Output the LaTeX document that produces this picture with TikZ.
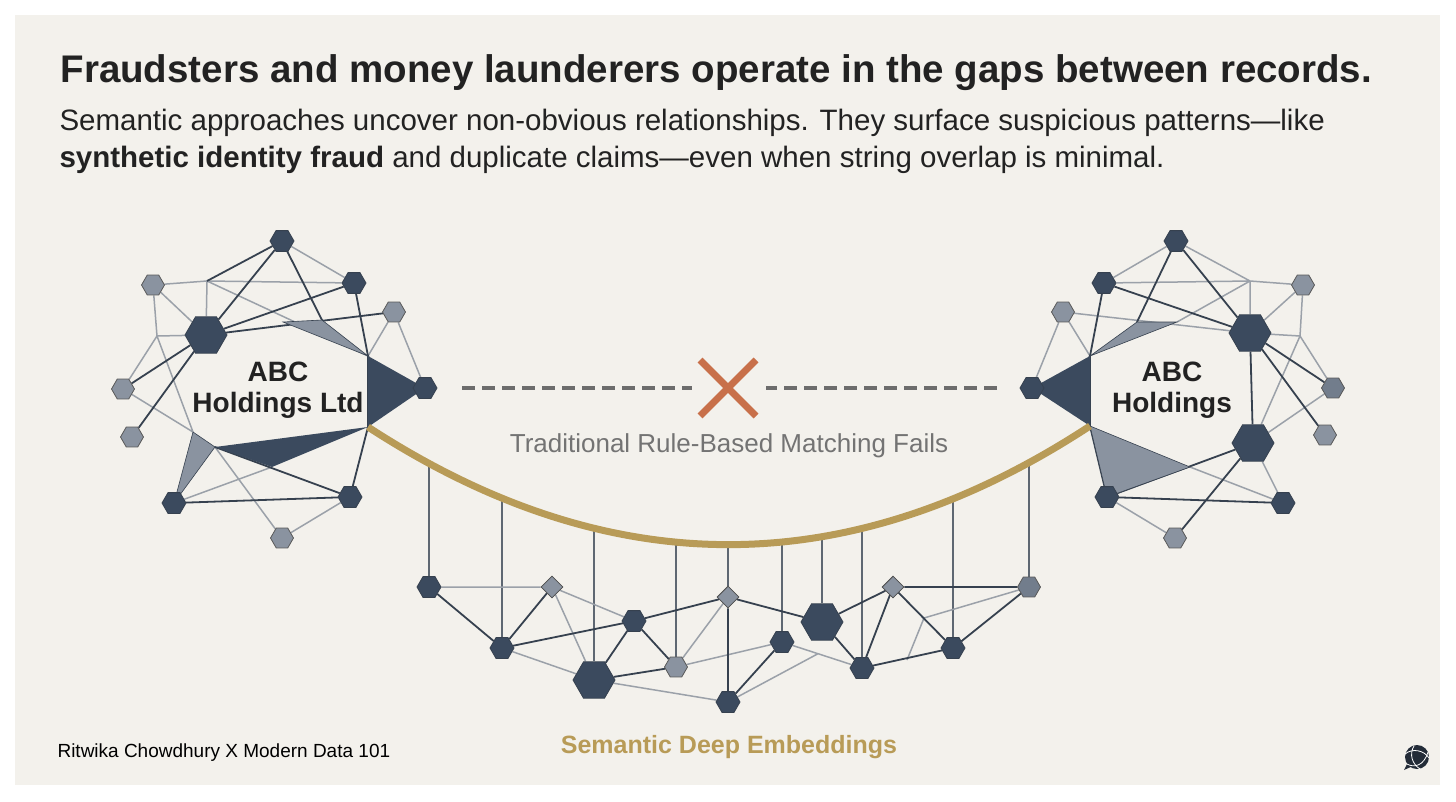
\documentclass[tikz,border=0pt]{standalone}
\usepackage{fontspec}
\setmainfont{Liberation Sans}
\usetikzlibrary{shapes.geometric,calc}
\definecolor{panel}{HTML}{F3F1EC}
\definecolor{navy}{HTML}{3B4A5E}
\definecolor{slate}{HTML}{8A93A0}
\definecolor{dline}{HTML}{36414F}
\definecolor{gline}{HTML}{9BA1A9}
\definecolor{gold}{HTML}{B89B57}
\definecolor{rust}{HTML}{C8704A}
\definecolor{txt}{HTML}{222222}
\pgfdeclarelayer{back}
\pgfdeclarelayer{bg}
\pgfsetlayers{back,bg,main}
\tikzset{
  hexb/.style={regular polygon,regular polygon sides=6,inner sep=0pt,draw=dline,line width=0.8pt},
  dh/.style={hexb,fill=navy,minimum size=24pt},
  gh/.style={hexb,fill=slate,draw=gray!70!black,minimum size=23pt},
  bh/.style={hexb,fill=navy,minimum size=42pt},
  dia/.style={diamond,inner sep=0pt,minimum size=22pt,fill=slate,draw=gray!60!black,line width=0.8pt},
  dk/.style={draw=dline,line width=1.8pt},
  gy/.style={draw=gline,line width=1.5pt},
  vt/.style={draw=dline!80,line width=1.1pt},
}
\begin{document}
\begin{tikzpicture}[x=1pt,y=-1pt]
\useasboundingbox (0,0) rectangle (1456,801);
\begin{pgfonlayer}{back}
\fill[white] (0,0) rectangle (1456,801);
\fill[panel] (15,15) rectangle (1440,785);
\end{pgfonlayer}
% titles
\node[anchor=west,font=\bfseries\fontsize{38.5}{44}\selectfont,text=txt] (title) at (57,73) {Fraudsters and money launderers operate in the gaps between records.};
\node[anchor=north west,align=left,font=\fontsize{29.5}{37}\selectfont,text=txt] (sub) at (56,106) {Semantic approaches uncover non-obvious relationships. They surface suspicious patterns---like\\\textbf{synthetic identity fraud} and duplicate claims---even when string overlap is minimal.};
% ---------- left cluster
\node[dh] (l1) at (282,241) {};
\node[gh] (l2) at (153,285) {};
\node[dh] (l3) at (354,283) {};
\node[gh] (l4) at (394,312) {};
\node[bh] (l5) at (206,335) {};
\node[gh] (l6) at (123,389) {};
\node[dh] (l7) at (425,388) {};
\node[gh] (l8) at (132,437) {};
\node[dh] (l9) at (174,503) {};
\node[dh] (l10) at (350,497) {};
\node[gh] (l11) at (282,538) {};
\coordinate (lj1) at (207,281);
\coordinate (lj2) at (157,336);
\coordinate (lj3) at (322,320);
\coordinate (lj4) at (368,356);
\coordinate (lj5) at (368,427);
\coordinate (lj6) at (193,432);
\coordinate (lj7) at (215,447);
\coordinate (lj8) at (272,467);
\coordinate (lj9) at (283,322);
\node[font=\bfseries\fontsize{28}{31}\selectfont,align=center,text=txt] (lt) at (278,390) {ABC\\Holdings Ltd};
% ---------- right cluster
\node[dh] (r1) at (1176,241) {};
\node[dh] (r2) at (1104,283) {};
\node[gh] (r3) at (1303,285) {};
\node[gh] (r4) at (1063,312) {};
\node[bh] (r5) at (1250,333) {};
\node[dh] (r6) at (1032,388) {};
\node[gh,fill=slate!70!navy] (r7) at (1333,388) {};
\node[gh] (r8) at (1325,435) {};
\node[bh] (r9) at (1253,443) {};
\node[dh] (r10) at (1107,497) {};
\node[dh] (r11) at (1283,503) {};
\node[gh] (r12) at (1175,538) {};
\coordinate (rj1) at (1250,281);
\coordinate (rj2) at (1300,336);
\coordinate (rj3) at (1090,356);
\coordinate (rj4) at (1090,426);
\coordinate (rj5) at (1137,322);
\coordinate (rj6) at (1177,322);
\coordinate (rj7) at (1190,467);
\node[font=\bfseries\fontsize{28}{31}\selectfont,align=center,text=txt] (rt) at (1172,390) {ABC\\Holdings};
% ---------- dashed link and X
\coordinate (da) at (462,388);
\coordinate (db) at (692,388);
\coordinate (dc) at (766,388);
\coordinate (dd) at (997,388);
\draw[draw=gray!85!black,line width=4pt,dash pattern=on 13pt off 7pt] (da) -- (db);
\draw[draw=gray!85!black,line width=4pt,dash pattern=on 13pt off 7pt] (dd) -- (dc);
\node (xm) at (728,388) {};
\draw[rust,line width=7pt] (700,360) -- (756,416) (756,360) -- (700,416);
\node[font=\fontsize{26}{30}\selectfont,text=gray!90!black] (trad) at (729,446) {Traditional Rule-Based Matching Fails};
% ---------- gold arc
\draw[gold,line width=7pt] (lj5) .. controls (609,584) and (849,584) .. (rj4);
% ---------- bottom network
\node[dh] (a) at (429,587) {};
\node[dia] (d1) at (552,587) {};
\node[dh] (n1) at (502,648) {};
\node[dh] (n2) at (634,621) {};
\node[bh] (b1) at (594,680) {};
\node[gh] (g) at (676,667) {};
\node[dia] (d2) at (728,597) {};
\node[dh] (n3) at (782,642) {};
\node[dh] (n4) at (728,702) {};
\node[bh] (b2) at (822,622) {};
\node[dia] (d3) at (893,587) {};
\node[dh] (n5) at (862,668) {};
\node[dh] (n6) at (953,648) {};
\node[gh,fill=slate!70!navy] (z) at (1029,587) {};
\coordinate (bj1) at (924,618);
\coordinate (bj2) at (907,660);
\coordinate (bj3) at ($(n3)!0.45!(n5)$);
\foreach \n/\x/\y in {va/429/464,vb/502/498,vc/594/528,vd/676/542,ve/728/545,vf/782/542,vg/822/537,vh/862/529,vi/953/499,vj/1029/464}{\coordinate (\n) at (\x,\y);}
\node[font=\bfseries\fontsize{25}{28}\selectfont,text=gold] (sde) at (729,747) {Semantic Deep Embeddings};
\node[anchor=west,font=\fontsize{19}{22}\selectfont,text=black] (foot) at (54,753) {Ritwika Chowdhury X Modern Data 101};
% icon
\node[circle,fill=navy!60!black,minimum size=24pt,inner sep=0pt] (ic) at (1417,757) {};
\fill[navy!60!black] (1408,762) -- (1404,770) -- (1413,766) -- cycle;
\draw[white,line width=0.8pt] (1405,754) .. controls (1412,748) and (1424,750) .. (1429,758);
\draw[white,line width=0.8pt] (1407,764) .. controls (1414,768) and (1424,766) .. (1428,752);
\draw[white,line width=0.8pt] (1414,746) .. controls (1409,754) and (1412,764) .. (1420,769);
\begin{pgfonlayer}{bg}
% left edges
\path[gy] (l1)--(l3) (l2)--(lj1)--(l3) (lj1)--(lj4) (lj1)--(l5) (l2)--(l5) (l2)--(lj2)--(lj6) (lj2)--(l6) (lj2)--(l5) (l4)--(lj4) (l4)--(l7) (l6)--(lj6) (l9)--(lj8) (lj7)--(l11) (l11)--(l10);
\path[dk] (l1)--(lj1) (l1)--(l5) (l1)--(lj3) (l5)--(l3) (l5)--(l4) (l5)--(l6) (l5)--(l8) (l3)--(lj4) (lj4)--(lj5) (lj5)--(l10) (l9)--(l10) (lj7)--(l10);
\fill[slate,draw=dline,line width=0.6pt] (lj9)--(lj3)--(lj4)--cycle;
\fill[navy] (lj4)--(l7.center)--(lj5)--cycle;
\fill[navy] (lj5)--(lj7)--(lj8)--cycle;
\fill[slate,draw=dline,line width=0.6pt] (lj6)--(lj7)--(l9.center)--cycle;
% right edges
\path[gy] (r1)--(r2) (r1)--(rj1) (r2)--(rj1)--(r3) (r4)--(r5) (r4)--(r6) (r4)--(rj3) (rj1)--(rj6) (rj1)--(r5) (r3)--(r5) (r3)--(rj2) (r5)--(rj2)--(r7) (rj2)--(r9) (r7)--(r9) (r9)--(r11) (r10)--(r12) (rj7)--(r11);
\path[dk] (r1)--(rj5) (r1)--(r5) (r2)--(r5) (r2)--(rj3) (r5)--(r7) (r5)--(r8) (r5)--(r9) (rj3)--(rj4) (rj4)--(r10) (r9)--(r10) (r9)--(r12) (r10)--(r11);
\fill[slate,draw=dline,line width=0.6pt] (rj3)--(rj5)--(rj6)--cycle;
\fill[navy] (r6.center)--(rj3)--(rj4)--cycle;
\fill[slate,draw=dline,line width=0.6pt] (rj4)--(rj7)--(r10.center)--cycle;
% bottom edges
\path[vt] (va)--(a) (vb)--(n1) (vc)--(b1) (vd)--(g) (ve)--(d2) (vf)--(n3) (vg)--(b2) (vh)--(n5) (vi)--(n6) (vj)--(z);
\path[gy] (a)--(d1) (d1)--(n2) (d1)--(b1) (n1)--(b1) (g)--(d2) (b1)--(n4) (g)--(n3) (n3)--(n5) (n4)--(bj3) (z)--(bj1)--(bj2);
\path[dk] (a)--(n1) (n1)--(d1) (n1)--(n2) (n2)--(b1) (n2)--(g) (n2)--(d2) (b1)--(g) (d2)--(n4) (d2)--(b2) (n3)--(n4) (b2)--(n5) (b2)--(d3) (d3)--(n5) (d3)--(z) (d3)--(n6) (n5)--(n6) (n6)--(z);
\end{pgfonlayer}
\end{tikzpicture}
\end{document}
